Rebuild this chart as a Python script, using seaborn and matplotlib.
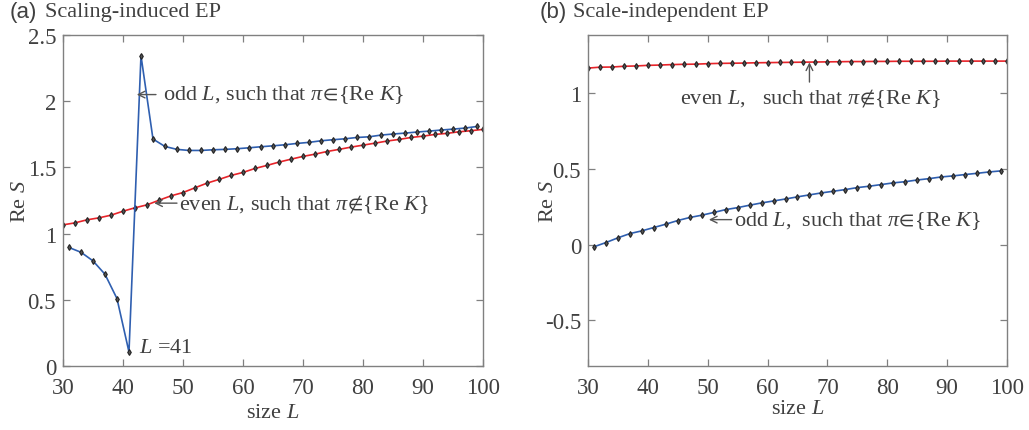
import numpy as np
import matplotlib
matplotlib.use("Agg")
import matplotlib.pyplot as plt
import seaborn as sns

# ---------------- data ----------------
even_L = list(range(30, 101, 2))
odd_L = list(range(31, 100, 2))

a_even = [1.066, 1.081, 1.104, 1.119, 1.139, 1.169, 1.195, 1.217, 1.252, 1.285,
          1.310, 1.346, 1.381, 1.409, 1.439, 1.462, 1.492, 1.515, 1.540, 1.562,
          1.583, 1.600, 1.620, 1.636, 1.653, 1.668, 1.683, 1.699, 1.711, 1.726,
          1.736, 1.749, 1.757, 1.769, 1.777, 1.787]
a_odd = [0.895, 0.859, 0.794, 0.693, 0.509, 0.106, 2.344, 1.714, 1.658, 1.636,
         1.628, 1.628, 1.633, 1.636, 1.641, 1.648, 1.656, 1.663, 1.671, 1.681,
         1.689, 1.701, 1.709, 1.716, 1.726, 1.731, 1.744, 1.752, 1.759, 1.767,
         1.774, 1.782, 1.789, 1.797, 1.809]

b_even = [1.162, 1.168, 1.169, 1.174, 1.176, 1.180, 1.182, 1.185, 1.187, 1.188,
          1.191, 1.193, 1.194, 1.195, 1.197, 1.198, 1.199, 1.200, 1.201, 1.202,
          1.203, 1.204, 1.205, 1.205, 1.206, 1.206, 1.207, 1.207, 1.207, 1.207,
          1.208, 1.208, 1.208, 1.208, 1.208, 1.208]
b_odd = [-0.015, 0.013, 0.044, 0.072, 0.090, 0.112, 0.134, 0.158, 0.178, 0.193,
         0.211, 0.230, 0.243, 0.259, 0.274, 0.287, 0.300, 0.314, 0.327, 0.340,
         0.351, 0.362, 0.375, 0.384, 0.395, 0.406, 0.414, 0.425, 0.434, 0.445,
         0.452, 0.461, 0.469, 0.478, 0.485]

x_ticks = [30, 40, 50, 60, 70, 80, 90, 100]
a_yticks = [0, 0.5, 1, 1.5, 2, 2.5]
a_ytick_labels = ["0", "0.5", "1", "1.5", "2", "2.5"]
b_yticks = [-0.5, 0, 0.5, 1]
b_ytick_labels = ["-0.5", "0", "0.5", "1"]

# ---------------- style ----------------
sns.set_theme(style="ticks")
plt.rcParams['font.family'] = ['Liberation Serif', 'DejaVu Serif']
plt.rcParams['mathtext.fontset'] = 'custom'
plt.rcParams['mathtext.rm'] = 'Liberation Serif'
plt.rcParams['mathtext.it'] = 'Liberation Serif:italic'
plt.rcParams['mathtext.fallback'] = 'stix'
plt.rcParams['axes.unicode_minus'] = False

TXT = '#404040'
SPINE = '#808080'
RED = '#e8242a'
BLUE = '#2f5fb0'
TFS = 16.5
AFS = 16

fig = plt.figure(figsize=(10.29, 4.31), dpi=100)
axa = fig.add_axes([0.0612, 0.1485, 0.4082, 0.768])
axb = fig.add_axes([0.5714, 0.1485, 0.4072, 0.768])

mk = dict(marker='d', markersize=3.0, markerfacecolor='#555555',
          markeredgecolor='#222222', markeredgewidth=0.8, linewidth=1.2)

sns.lineplot(x=even_L, y=a_even, ax=axa, color=RED, **mk)
sns.lineplot(x=odd_L, y=a_odd, ax=axa, color=BLUE, **mk)
sns.lineplot(x=even_L, y=b_even, ax=axb, color=RED, **mk)
sns.lineplot(x=odd_L, y=b_odd, ax=axb, color=BLUE, **mk)

for ax in (axa, axb):
    ax.set_xlim(30, 100)
    ax.set_xticks(x_ticks)
    ax.set_xticklabels([str(t) for t in x_ticks])
    for s in ax.spines.values():
        s.set_visible(True)
        s.set_color(SPINE)
        s.set_linewidth(1.0)
    ax.tick_params(direction='in', length=5, width=0.9, colors=SPINE,
                   labelcolor=TXT, labelsize=TFS, top=True, right=True, pad=5)
    ax.tick_params(axis='x', pad=8)
    ax.set_xlabel("size $L$", fontsize=AFS, color=TXT)
    ax.set_ylabel("Re $S$", fontsize=AFS, color=TXT)

axa.yaxis.set_label_coords(-0.0786, 0.5)
axb.yaxis.set_label_coords(-0.0716, 0.5)
axa.xaxis.set_label_coords(0.5, -0.113)
axb.xaxis.set_label_coords(0.5, -0.099)

axa.set_ylim(0, 2.5)
axa.set_yticks(a_yticks)
axa.set_yticklabels(a_ytick_labels)
axb.set_ylim(-0.8, 1.38)
axb.set_yticks(b_yticks)
axb.set_yticklabels(b_ytick_labels)

# titles
fig.text(0.009, 0.972, "(a)", family='Liberation Sans', fontsize=AFS, color=TXT, va='center', ha='left')
fig.text(0.0437, 0.972, "Scaling-induced EP", fontsize=AFS, color=TXT, va='center', ha='left')
fig.text(0.5245, 0.972, "(b)", family='Liberation Sans', fontsize=AFS, color=TXT, va='center', ha='left')
fig.text(0.557, 0.972, "Scale-independent EP", fontsize=AFS, color=TXT, va='center', ha='left')

arrow = dict(arrowstyle='->', color='#555555', lw=1.0, shrinkA=0, shrinkB=0)

axa.annotate("", xy=(42.3, 2.05), xytext=(45.5, 2.05), arrowprops=arrow)
axa.text(46.6, 2.05, r"odd $L$, such that $\pi\!\in\!${Re $K$}", fontsize=AFS, color=TXT, va='center', ha='left')
axa.annotate("", xy=(45.2, 1.23), xytext=(49.0, 1.23), arrowprops=arrow)
axa.text(49.4, 1.23, r"even $L$, such that $\pi\!\notin\!${Re $K$}", fontsize=AFS, color=TXT, va='center', ha='left')
axa.text(42.6, 0.14, "$L$ =41", fontsize=AFS, color=TXT, va='center', ha='left')

axb.annotate("", xy=(67.0, 1.2), xytext=(67.0, 1.07), arrowprops=arrow)
axb.text(45.4, 0.97, r"even $L$,   such that $\pi\!\notin\!${Re $K$}", fontsize=AFS, color=TXT, va='center', ha='left')
axb.annotate("", xy=(50.2, 0.164), xytext=(54.0, 0.164), arrowprops=arrow)
axb.text(54.4, 0.164, r"odd $L$,  such that $\pi\!\in\!${Re $K$}", fontsize=AFS, color=TXT, va='center', ha='left')

fig.savefig("out.png", dpi=100)
